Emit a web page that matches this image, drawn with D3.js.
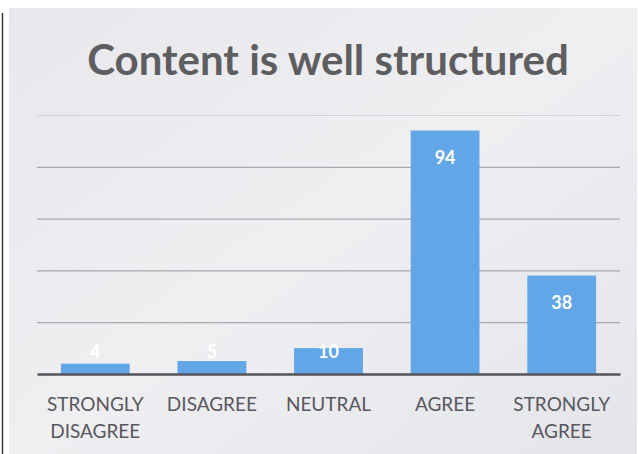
<!DOCTYPE html>
<html>
<head>
<meta charset="utf-8">
<script src="https://cdn.jsdelivr.net/npm/d3@7"></script>
<style>
  html, body { margin: 0; padding: 0; background: #ffffff; }
  svg { display: block; }
</style>
</head>
<body>
<div id="chart"></div>
<script>
// Survey answers
const categories = ['STRONGLY DISAGREE', 'DISAGREE', 'NEUTRAL', 'AGREE', 'STRONGLY AGREE'];
const labelLines = [['STRONGLY', 'DISAGREE'], ['DISAGREE'], ['NEUTRAL'], ['AGREE'], ['STRONGLY', 'AGREE']];
const counts = [4, 5, 10, 94, 38];
const gridTicks = [0, 20, 40, 60, 80, 100];

const outerWidth = 638;
const outerHeight = 454;
const margin = { top: 115, right: 18, bottom: 80, left: 37 };

const svg = d3.select('#chart')
  .append('svg')
  .attr('width', outerWidth)
  .attr('height', outerHeight);

// scanned page look: grey chart panel with a soft gradient
const defs = svg.append('defs');
const grad = defs.append('linearGradient')
  .attr('id', 'panel')
  .attr('x1', 0).attr('y1', 0).attr('x2', 1).attr('y2', 1);
grad.append('stop').attr('offset', '0%').attr('stop-color', '#e8e8ec');
grad.append('stop').attr('offset', '50%').attr('stop-color', '#efeff2');
grad.append('stop').attr('offset', '100%').attr('stop-color', '#e4e5ea');

svg.append('rect')
  .attr('x', 9).attr('y', 8)
  .attr('width', outerWidth - 10).attr('height', outerHeight - 8)
  .attr('fill', 'url(#panel)');

// left page border from the scan
svg.append('line')
  .attr('x1', 2.5).attr('y1', 13).attr('x2', 2.5).attr('y2', outerHeight)
  .attr('stroke', '#3a3a3a').attr('stroke-width', 1.5);

const width = outerWidth - margin.left - margin.right;
const height = outerHeight - margin.top - margin.bottom;

const g = svg.append('g')
  .attr('transform', `translate(${margin.left}, ${margin.top})`);

const x = d3.scaleBand()
  .domain(categories)
  .range([0, width])
  .paddingInner(0.41)
  .paddingOuter(0.205);

const y = d3.scaleLinear()
  .domain([0, 100])
  .range([height, 0]);

// Gridlines (no axis text in this chart)
g.append('g')
  .call(d3.axisLeft(y).tickValues(gridTicks.slice(1)).tickSize(-width).tickFormat(''))
  .call(a => a.select('.domain').remove())
  .selectAll('.tick line')
  .attr('stroke', d => d === 100 ? '#cfcfd3' : '#a9a9ad')
  .attr('stroke-width', 1.2);

// Bars
g.selectAll('.bar')
  .data(counts)
  .enter()
  .append('rect')
  .attr('class', 'bar')
  .attr('x', (d, i) => x(categories[i]))
  .attr('y', d => y(d))
  .attr('width', x.bandwidth())
  .attr('height', d => y(0) - y(d))
  .attr('fill', '#62a6e8');

// Baseline
g.append('g')
  .attr('transform', `translate(0, ${y(0)})`)
  .call(d3.axisBottom(x).tickSize(0).tickFormat(''))
  .call(a => a.select('.domain').attr('stroke', '#555558').attr('stroke-width', 2.6));

// Value labels, inside end (pushed up for short bars)
g.selectAll('.value')
  .data(counts)
  .enter()
  .append('text')
  .attr('class', 'value')
  .attr('x', (d, i) => x(categories[i]) + x.bandwidth() / 2)
  .attr('y', d => Math.min(y(d) + 33, y(0) - 16))
  .attr('text-anchor', 'middle')
  .attr('font-family', 'Lato, "Open Sans", sans-serif')
  .attr('font-weight', 700)
  .attr('font-size', 18)
  .attr('fill', '#ffffff')
  .text(d => d);

// Category labels
const cat = g.selectAll('.cat')
  .data(labelLines)
  .enter()
  .append('text')
  .attr('class', 'cat')
  .attr('x', (d, i) => x(categories[i]) + x.bandwidth() / 2)
  .attr('y', height + 37)
  .attr('text-anchor', 'middle')
  .attr('font-family', 'Lato, "Open Sans", sans-serif')
  .attr('font-size', 19)
  .attr('fill', '#58585e');

cat.selectAll('tspan')
  .data(d => d)
  .enter()
  .append('tspan')
  .attr('x', function () { return d3.select(this.parentNode).attr('x'); })
  .attr('dy', (d, i) => i === 0 ? 0 : 27)
  .text(d => d);

// Title
svg.append('text')
  .attr('x', 328)
  .attr('y', 75)
  .attr('text-anchor', 'middle')
  .attr('font-family', 'Lato, "Open Sans", sans-serif')
  .attr('font-weight', 700)
  .attr('font-size', 42)
  .attr('fill', '#5e5e61')
  .text('Content is well structured');
</script>
</body>
</html>
